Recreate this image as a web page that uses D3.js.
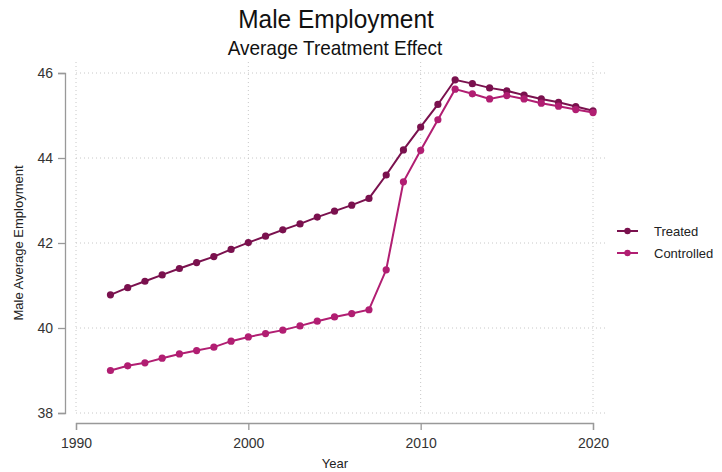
<!DOCTYPE html>
<html><head><meta charset="utf-8">
<script src="https://cdn.jsdelivr.net/npm/d3@7"></script>
<style>body{margin:0;background:#fff;}svg{display:block;font-family:"Liberation Sans",Arial,sans-serif;}</style>
</head><body>
<svg id="c" width="722" height="472"></svg>
<script>
const years = d3.range(1992, 2021);
const treated = [40.78,40.95,41.10,41.25,41.40,41.54,41.68,41.85,42.01,42.16,42.31,42.45,42.61,42.75,42.89,43.05,43.60,44.19,44.73,45.26,45.84,45.75,45.65,45.58,45.48,45.39,45.31,45.21,45.11];
const controlled = [39.00,39.11,39.18,39.29,39.39,39.47,39.55,39.69,39.79,39.87,39.95,40.05,40.16,40.26,40.34,40.43,41.37,43.44,44.18,44.90,45.62,45.51,45.39,45.47,45.39,45.29,45.22,45.14,45.07];
const seriesNames = ["Treated","Controlled"];
const seriesColors = ["#7a114e","#b11e72"];
const xTicks = [1990,2000,2010,2020];
const yTicks = [38,40,42,44,46];

const svg = d3.select("#c");
const x = d3.scaleLinear().domain([1990,2020]).range([76,593]);
const y = d3.scaleLinear().domain([38,46]).range([413,73]);

// grid
const grid = svg.append("g").attr("stroke","#c8c8c8").attr("stroke-width",1).attr("stroke-dasharray","1,3");
grid.selectAll("line.h").data(yTicks).join("line").attr("x1",76).attr("x2",606).attr("y1",d=>y(d)).attr("y2",d=>y(d));
grid.selectAll("line.v").data(xTicks).join("line").attr("x1",d=>x(d)).attr("x2",d=>x(d)).attr("y1",62).attr("y2",413);

// axes
const xAxis = svg.append("g").attr("transform","translate(0,423)")
  .call(d3.axisBottom(x).tickValues(xTicks).tickFormat(d3.format("d")).tickSize(7).tickPadding(8));
const yAxis = svg.append("g").attr("transform","translate(65,0)")
  .call(d3.axisLeft(y).tickValues(yTicks).tickSize(7).tickPadding(5));
[xAxis,yAxis].forEach(a=>{
  a.select(".domain").attr("stroke","#999").attr("stroke-width",1.3);
  a.selectAll(".tick line").attr("stroke","#999").attr("stroke-width",1.3);
  a.selectAll(".tick text").attr("fill","#333").style("font-size","14px").style("font-family","Liberation Sans, Arial, sans-serif");
});

// lines
const data = [treated, controlled];
const line = d3.line().x((d,i)=>x(years[i])).y(d=>y(d));
data.forEach((s,k)=>{
  svg.append("path").datum(s).attr("fill","none").attr("stroke",seriesColors[k]).attr("stroke-width",2).attr("d",line);
  svg.append("g").selectAll("circle").data(s).join("circle")
    .attr("cx",(d,i)=>x(years[i])).attr("cy",d=>y(d)).attr("r",3.6).attr("fill",seriesColors[k]);
});

// titles
svg.append("text").attr("transform","translate(336,28) scale(0.94,1)").attr("text-anchor","middle").attr("fill","#111").style("font-size","26px").text("Male Employment");
svg.append("text").attr("transform","translate(335,55) scale(0.95,1)").attr("text-anchor","middle").attr("fill","#111").style("font-size","20px").text("Average Treatment Effect");
svg.append("text").attr("x",335).attr("y",468).attr("text-anchor","middle").attr("fill","#222").style("font-size","13px").text("Year");
svg.append("text").attr("transform","translate(23,243) rotate(-90)").attr("text-anchor","middle").attr("fill","#222").style("font-size","13px").text("Male Average Employment");

// legend
const lg = svg.append("g");
seriesNames.forEach((n,k)=>{
  const yy = 231 + k*22;
  lg.append("line").attr("x1",617).attr("x2",638).attr("y1",yy).attr("y2",yy).attr("stroke",seriesColors[k]).attr("stroke-width",2);
  lg.append("circle").attr("cx",627.5).attr("cy",yy).attr("r",3.2).attr("fill",seriesColors[k]);
  lg.append("text").attr("x",654).attr("y",yy+5).attr("fill","#222").style("font-size","13px").text(n);
});
</script>
</body></html>
